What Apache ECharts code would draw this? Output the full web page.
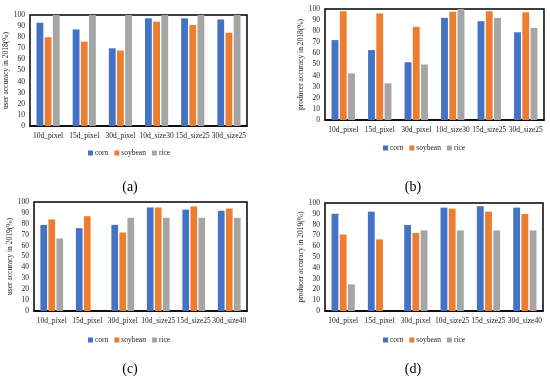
<!DOCTYPE html>
<html><head><meta charset="utf-8">
<script src="https://cdn.jsdelivr.net/npm/echarts@6/dist/echarts.min.js"></script>
<style>html,body{margin:0;padding:0;background:#fff}#c{width:550px;height:379px}</style>
</head><body><div id="c"></div>
<script>
const seriesNames = ['corn', 'soybean', 'rice'];
const colors = ['#4472C4', '#ED7D31', '#A5A5A5'];
const yTicks = [0,10,20,30,40,50,60,70,80,90,100];

const catsA = ['10d_pixel','15d_pixel','30d_pixel','10d_size30','15d_size25','30d_size25'];
const cornA = [93, 87, 70, 97, 97, 96];
const soyA  = [80, 76, 68, 94, 91, 84];
const riceA = [100, 100, 100, 100, 100, 100];

const catsB = ['10d_pixel','15d_pixel','30d_pixel','10d_size30','15d_size25','30d_size25'];
const cornB = [72, 63, 52, 92, 89, 79];
const soyB  = [98, 96, 84, 97.5, 98, 97];
const riceB = [42, 33, 50, 100, 92, 83];

const catsC = ['10d_pixel','15d_pixel','30d_pixel','10d_size25','15d_size25','30d_size40'];
const cornC = [79, 76, 79, 95, 93, 92];
const soyC  = [84, 87, 72, 95, 96, 94];
const riceC = [66.5, 0, 85.5, 85.5, 85.5, 85.5];

const catsD = ['10d_pixel','15d_pixel','30d_pixel','10d_size25','15d_size25','30d_size40'];
const cornD = [90, 92, 79.6, 95.7, 97, 95.7];
const soyD  = [70.8, 66.3, 72.3, 94.8, 92, 89.8];
const riceD = [24.6, 0, 74.6, 74.6, 74.6, 74.6];

const yTitles = ['user accuracy in 2018(%)', 'producer accuracy in 2018(%)', 'user accuracy in 2019(%)', 'producer accuracy in 2019(%)'];
const panelLabels = ['(a)', '(b)', '(c)', '(d)'];

const panels = [
  {cats: catsA, data: [cornA, soyA, riceA], grid: {left: 30, top: 15, width: 217, height: 111}, legendLeft: 88, legendTop: 149, labelPos: [130, 187]},
  {cats: catsB, data: [cornB, soyB, riceB], grid: {left: 325, top: 9, width: 219, height: 111}, legendLeft: 383, legendTop: 144, labelPos: [413, 187]},
  {cats: catsC, data: [cornC, soyC, riceC], grid: {left: 34, top: 202, width: 213, height: 109}, legendLeft: 88, legendTop: 336, labelPos: [130, 369]},
  {cats: catsD, data: [cornD, soyD, riceD], grid: {left: 325, top: 203, width: 218, height: 108}, legendLeft: 383, legendTop: 336, labelPos: [413, 369]}
];

const font = 'Liberation Serif, Times New Roman, serif';
const option = {
  animation: false,
  backgroundColor: '#fff',
  textStyle: {fontFamily: font},
  grid: [], xAxis: [], yAxis: [], series: [], legend: [], graphic: []
};

panels.forEach((p, i) => {
  option.grid.push(Object.assign({show: true, borderColor: '#000', borderWidth: 1.5, backgroundColor: 'transparent'}, p.grid));
  option.xAxis.push({
    type: 'category', gridIndex: i, data: p.cats,
    axisLine: {lineStyle: {color: '#000', width: 1.5}}, axisTick: {show: false},
    axisLabel: {color: '#222', fontSize: 7.5, fontFamily: font, interval: 0, margin: 6}
  });
  option.yAxis.push({
    type: 'value', gridIndex: i, min: 0, max: 100, interval: 10,
    name: yTitles[i], nameLocation: 'middle', nameGap: 19,
    nameTextStyle: {fontSize: 7.5, color: '#222', fontFamily: font},
    axisLine: {show: false}, axisTick: {show: false}, splitLine: {show: false},
    axisLabel: {color: '#222', fontSize: 7.5, fontFamily: font, margin: 5, formatter: v => yTicks.includes(v) ? String(v) : ''}
  });
  seriesNames.forEach((name, k) => {
    option.series.push({
      type: 'bar', name: name, xAxisIndex: i, yAxisIndex: i, data: p.data[k],
      itemStyle: {color: colors[k]}, barGap: '20%', barCategoryGap: '36%'
    });
  });
  option.legend.push({
    data: seriesNames, left: p.legendLeft, top: p.legendTop, padding: 0,
    itemWidth: 5, itemHeight: 5, itemGap: 6, icon: 'rect',
    textStyle: {fontSize: 7.5, color: '#222', fontFamily: font, padding: [0, 0, 0, -3]}
  });
  option.graphic.push({
    type: 'text', x: p.labelPos[0], y: p.labelPos[1],
    style: {text: panelLabels[i], font: '14px ' + font, fill: '#000', textAlign: 'center', textVerticalAlign: 'middle'}
  });
});

const chart = echarts.init(document.getElementById('c'), null, {renderer: 'canvas'});
chart.setOption(option);
</script>
</body></html>
